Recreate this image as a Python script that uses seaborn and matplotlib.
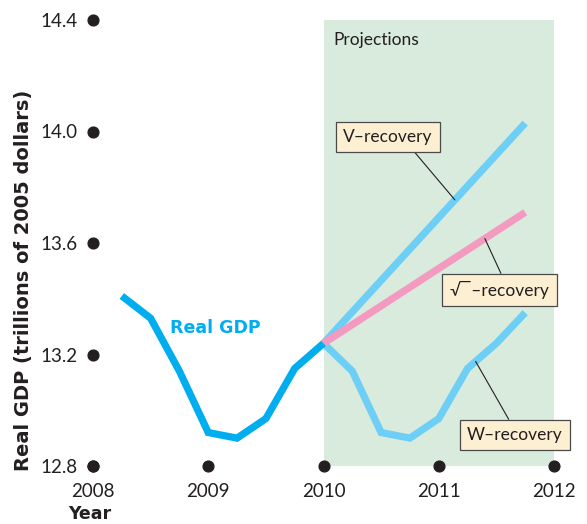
import numpy as np
import pandas as pd
import matplotlib
matplotlib.use("Agg")
import matplotlib.pyplot as plt
import seaborn as sns

# Quarterly real GDP, trillions of 2005 dollars
gdp_years = [2008.25, 2008.5, 2008.75, 2009.0, 2009.25, 2009.5, 2009.75, 2010.0]
gdp_values = [13.41, 13.33, 13.14, 12.92, 12.90, 12.97, 13.15, 13.24]

# Projected recovery paths
v_years = [2010.0, 2011.75]
v_values = [13.24, 14.03]
root_years = [2010.0, 2011.75]
root_values = [13.24, 13.71]
w_years = [2010.0, 2010.25, 2010.5, 2010.75, 2011.0, 2011.25, 2011.5, 2011.75]
w_values = [13.24, 13.14, 12.92, 12.90, 12.97, 13.15, 13.24, 13.35]

x_ticks = [2008, 2009, 2010, 2011, 2012]
y_ticks = [12.8, 13.2, 13.6, 14.0, 14.4]
y_tick_labels = ["12.8", "13.2", "13.6", "14.0", "14.4"]

sns.set_theme(style="white")
plt.rcParams["font.family"] = ["Lato", "DejaVu Sans"]
HEAVY = ["DejaVu Sans"]

GDP_BLUE = "#00aeef"
LIGHT_BLUE = "#6dcff6"
PINK = "#f49ac1"
SHADE = "#d8ebdd"
BOX = "#fdefd2"
INK = "#231f20"

fig = plt.figure(figsize=(5.87, 5.24), dpi=100)
ax = fig.add_axes([93 / 587, 1 - 466 / 524, (554 - 93) / 587, (466 - 20) / 524])
ax.set_xlim(2008, 2012)
ax.set_ylim(12.8, 14.4)

# Projection period
ax.axvspan(2010, 2012, color=SHADE, lw=0, zorder=0)
ax.text(2010.09, 14.33, "Projections", fontsize=12.5, color=INK, va="center", ha="left")

lw = 5.2
gdp = pd.DataFrame({"year": gdp_years, "gdp": gdp_values})
sns.lineplot(data=gdp, x="year", y="gdp", ax=ax, color=GDP_BLUE, lw=lw,
             solid_joinstyle="miter", solid_capstyle="butt", zorder=4)
sns.lineplot(x=v_years, y=v_values, ax=ax, color=LIGHT_BLUE, lw=lw,
             solid_capstyle="butt", zorder=2)
sns.lineplot(x=w_years, y=w_values, ax=ax, color=LIGHT_BLUE, lw=lw,
             solid_joinstyle="miter", solid_capstyle="butt", zorder=2)
sns.lineplot(x=root_years, y=root_values, ax=ax, color=PINK, lw=lw,
             solid_capstyle="butt", zorder=3)

ax.text(2008.67, 13.295, "Real GDP", fontsize=12.5, fontweight="bold", family=HEAVY,
        color=GDP_BLUE, ha="left", va="center")

# Callout boxes
box_style = dict(boxstyle="square,pad=0.42", fc=BOX, ec="#4a4a4a", lw=0.9)
callouts = [
    ("V\u2013recovery", v_years, v_values, 2011.14, (2010.56, 13.98), (0.73, 0.0)),
    ("\u221a\u203e\u2013recovery", root_years, root_values, 2011.40, (2011.527, 13.431), (0.55, 1.0)),
    ("W\u2013recovery", w_years, w_values, 2011.32, (2011.662, 12.911), (0.48, 1.0)),
]
for label, xs, ys, xp, text_pos, rel in callouts:
    yp = np.interp(xp, xs, ys)
    ax.annotate(label, xy=(xp, yp), xytext=text_pos, fontsize=12.5, color=INK,
                ha="center", va="center", bbox=box_style, zorder=6,
                annotation_clip=False,
                arrowprops=dict(arrowstyle="-", color=INK, lw=0.8,
                                shrinkA=0, shrinkB=0, relpos=rel))

# Dot tick marks along both axes
ax.scatter([2008] * len(y_ticks), y_ticks, s=60, color=INK, clip_on=False, zorder=7)
ax.scatter(x_ticks, [12.8] * len(x_ticks), s=60, color=INK, clip_on=False, zorder=7)

ax.set_xticks(x_ticks)
ax.set_xticklabels([str(t) for t in x_ticks], fontsize=13.5, color=INK)
ax.set_yticks(y_ticks)
ax.set_yticklabels(y_tick_labels, fontsize=13.5, color=INK)
ax.tick_params(axis="x", length=0, pad=12)
ax.tick_params(axis="y", length=0, pad=11)
for s in ax.spines.values():
    s.set_visible(False)

ax.set_xlabel("")
ax.set_ylabel("")
fig.text(90 / 587, 1 - 514 / 524, "Year", fontsize=12.5, fontweight="bold", family=HEAVY,
         color=INK, ha="center", va="center")
fig.text(24 / 587, 1 - 280 / 524, "Real GDP (trillions of 2005 dollars)", fontsize=14,
         fontweight="bold", family=HEAVY, color=INK, rotation=90,
         ha="center", va="center")

fig.savefig("out.png", dpi=100, facecolor="white")
